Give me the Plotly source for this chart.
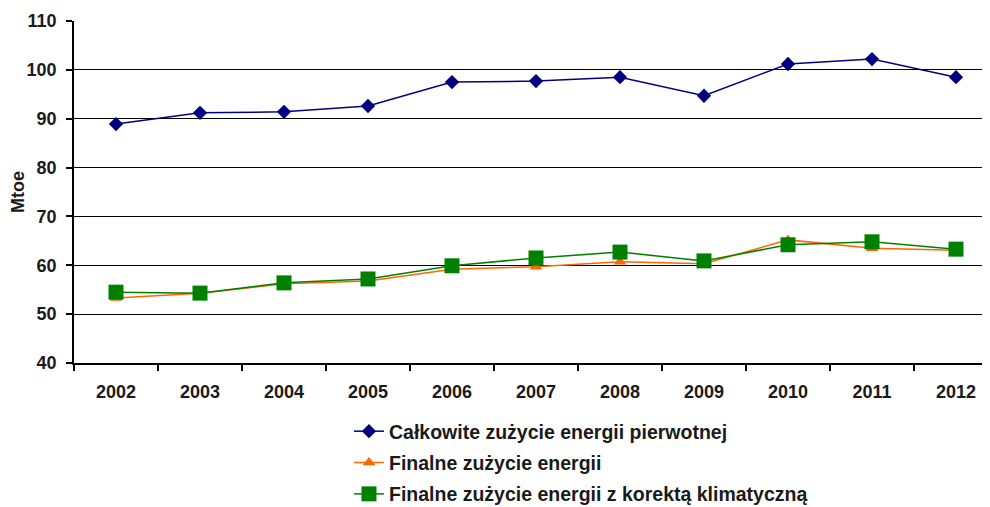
import plotly.graph_objects as go

years = ["2002", "2003", "2004", "2005", "2006", "2007", "2008", "2009", "2010", "2011", "2012"]
primary = [88.9, 91.2, 91.4, 92.6, 97.5, 97.7, 98.5, 94.7, 101.2, 102.2, 98.5]
final = [53.3, 54.3, 56.2, 56.8, 59.2, 59.7, 60.7, 60.3, 65.2, 63.5, 63.1]
final_corr = [54.5, 54.3, 56.4, 57.2, 59.9, 61.5, 62.7, 60.9, 64.2, 64.8, 63.3]

names = ["Całkowite zużycie energii pierwotnej",
         "Finalne zużycie energii",
         "Finalne zużycie energii z korektą klimatyczną"]

FONT = "Liberation Sans, Arial, sans-serif"
TXT = "#1a1a1a"

fig = go.Figure()
fig.add_trace(go.Scatter(x=years, y=primary, mode="lines+markers", name=names[0],
                         legendgroup="a",
                         line=dict(color="#000080", width=1.5),
                         marker=dict(symbol="diamond", size=11, color="#000080")))
fig.add_trace(go.Scatter(x=years, y=final, mode="lines+markers", name=names[1],
                         legendgroup="b",
                         line=dict(color="#FF6600", width=1.5),
                         marker=dict(symbol="triangle-up", size=11, color="#FF6600")))
fig.add_trace(go.Scatter(x=years, y=final_corr, mode="lines+markers", name=names[2],
                         legendgroup="c",
                         line=dict(color="#008000", width=1.5),
                         marker=dict(symbol="square", size=15, color="#008000")))

fig.update_layout(
    width=990, height=507,
    margin=dict(l=66, r=0, t=13, b=152),
    paper_bgcolor="white", plot_bgcolor="white",
    font=dict(family=FONT, size=18, color=TXT, weight="bold"),
    showlegend=True,
    legend=dict(orientation="v", x=0.2976, xanchor="left", y=-0.4415, yanchor="bottom",
                tracegroupgap=3, font=dict(size=19.5, weight="bold", color=TXT),
                bgcolor="rgba(0,0,0,0)"),
    xaxis=dict(type="category", range=[-0.5, 10.5], tickson="boundaries",
               ticks="outside", ticklen=6, tickcolor="black", tickwidth=1.5,
               showline=True, linecolor="black", linewidth=1.5,
               showgrid=False, ticklabelstandoff=12, automargin=False,
               tickfont=dict(size=18, weight="bold")),
    yaxis=dict(range=[40, 110], dtick=10, tick0=40,
               ticks="outside", ticklen=6, tickcolor="black", tickwidth=1.5,
               showline=True, linecolor="black", linewidth=1.5,
               showgrid=True, gridcolor="black", gridwidth=1.3,
               zeroline=False, ticklabelstandoff=6, automargin=False,
               title=dict(text="Mtoe", font=dict(size=18, weight="bold"), standoff=3),
               tickfont=dict(size=18, weight="bold")),
)

fig.write_html("out.html")
